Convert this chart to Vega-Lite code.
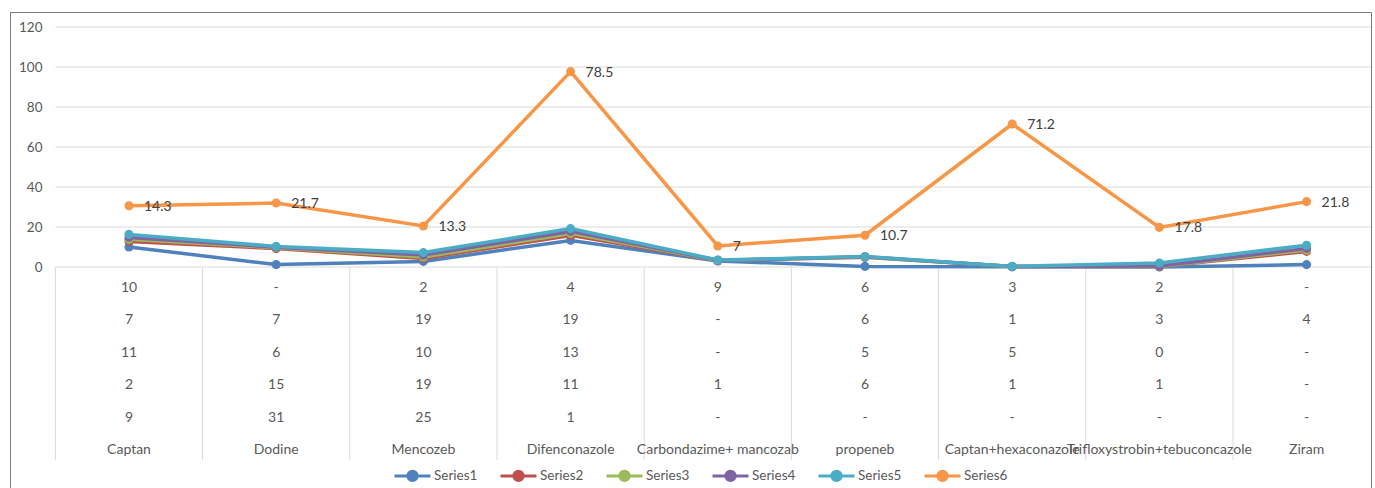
{
  "$schema": "https://vega.github.io/schema/vega-lite/v6.json",
  "width": 1361,
  "height": 476,
  "autosize": {"type": "none"},
  "padding": {"left": 10, "top": 12, "right": 4, "bottom": 0},
  "background": "white",
  "config": {
    "view": {"stroke": "#7a7a7a", "strokeWidth": 1},
    "font": "Lato",
    "scale": {"bandPaddingInner": 0, "bandPaddingOuter": 0}
  },
  "datasets": {
    "grid": [{"g": 0}, {"g": 20}, {"g": 40}, {"g": 60}, {"g": 80}, {"g": 100}, {"g": 120}],
    "lines": [
      {"cat": "Captan", "series": "Series1", "v": 10},
      {"cat": "Dodine", "series": "Series1", "v": 1.2},
      {"cat": "Mencozeb", "series": "Series1", "v": 2.8},
      {"cat": "Difenconazole", "series": "Series1", "v": 13.3},
      {"cat": "Carbondazime+ mancozab", "series": "Series1", "v": 3.0},
      {"cat": "propeneb", "series": "Series1", "v": 0.3},
      {"cat": "Captan+hexaconazole", "series": "Series1", "v": 0.1},
      {"cat": "Trifloxystrobin+tebuconcazole", "series": "Series1", "v": 0},
      {"cat": "Ziram", "series": "Series1", "v": 1.2},
      {"cat": "Captan", "series": "Series2", "v": 2.8},
      {"cat": "Dodine", "series": "Series2", "v": 8.0},
      {"cat": "Mencozeb", "series": "Series2", "v": 1.5},
      {"cat": "Difenconazole", "series": "Series2", "v": 2.5},
      {"cat": "Carbondazime+ mancozab", "series": "Series2", "v": 0.2},
      {"cat": "propeneb", "series": "Series2", "v": 4.6},
      {"cat": "Captan+hexaconazole", "series": "Series2", "v": 0.1},
      {"cat": "Trifloxystrobin+tebuconcazole", "series": "Series2", "v": 0.2},
      {"cat": "Ziram", "series": "Series2", "v": 6.6},
      {"cat": "Captan", "series": "Series3", "v": 1.1},
      {"cat": "Dodine", "series": "Series3", "v": 0.4},
      {"cat": "Mencozeb", "series": "Series3", "v": 0.7},
      {"cat": "Difenconazole", "series": "Series3", "v": 1.0},
      {"cat": "Carbondazime+ mancozab", "series": "Series3", "v": 0.1},
      {"cat": "propeneb", "series": "Series3", "v": 0.1},
      {"cat": "Captan+hexaconazole", "series": "Series3", "v": 0},
      {"cat": "Trifloxystrobin+tebuconcazole", "series": "Series3", "v": 0.1},
      {"cat": "Ziram", "series": "Series3", "v": 0.7},
      {"cat": "Captan", "series": "Series4", "v": 0.9},
      {"cat": "Dodine", "series": "Series4", "v": 0.3},
      {"cat": "Mencozeb", "series": "Series4", "v": 1.0},
      {"cat": "Difenconazole", "series": "Series4", "v": 1.0},
      {"cat": "Carbondazime+ mancozab", "series": "Series4", "v": 0.1},
      {"cat": "propeneb", "series": "Series4", "v": 0.1},
      {"cat": "Captan+hexaconazole", "series": "Series4", "v": 0},
      {"cat": "Trifloxystrobin+tebuconcazole", "series": "Series4", "v": 0.2},
      {"cat": "Ziram", "series": "Series4", "v": 0.8},
      {"cat": "Captan", "series": "Series5", "v": 1.5},
      {"cat": "Dodine", "series": "Series5", "v": 0.4},
      {"cat": "Mencozeb", "series": "Series5", "v": 1.2},
      {"cat": "Difenconazole", "series": "Series5", "v": 1.4},
      {"cat": "Carbondazime+ mancozab", "series": "Series5", "v": 0.1},
      {"cat": "propeneb", "series": "Series5", "v": 0.1},
      {"cat": "Captan+hexaconazole", "series": "Series5", "v": 0.1},
      {"cat": "Trifloxystrobin+tebuconcazole", "series": "Series5", "v": 1.5},
      {"cat": "Ziram", "series": "Series5", "v": 1.6},
      {"cat": "Captan", "series": "Series6", "v": 14.3},
      {"cat": "Dodine", "series": "Series6", "v": 21.7},
      {"cat": "Mencozeb", "series": "Series6", "v": 13.3},
      {"cat": "Difenconazole", "series": "Series6", "v": 78.5},
      {"cat": "Carbondazime+ mancozab", "series": "Series6", "v": 7},
      {"cat": "propeneb", "series": "Series6", "v": 10.7},
      {"cat": "Captan+hexaconazole", "series": "Series6", "v": 71.2},
      {"cat": "Trifloxystrobin+tebuconcazole", "series": "Series6", "v": 17.8},
      {"cat": "Ziram", "series": "Series6", "v": 21.8}
    ],
    "table": [
      {"cat": "Captan", "row": 1, "text": "10"},
      {"cat": "Captan", "row": 2, "text": "7"},
      {"cat": "Captan", "row": 3, "text": "11"},
      {"cat": "Captan", "row": 4, "text": "2"},
      {"cat": "Captan", "row": 5, "text": "9"},
      {"cat": "Captan", "row": 6, "text": "Captan"},
      {"cat": "Dodine", "row": 1, "text": "-"},
      {"cat": "Dodine", "row": 2, "text": "7"},
      {"cat": "Dodine", "row": 3, "text": "6"},
      {"cat": "Dodine", "row": 4, "text": "15"},
      {"cat": "Dodine", "row": 5, "text": "31"},
      {"cat": "Dodine", "row": 6, "text": "Dodine"},
      {"cat": "Mencozeb", "row": 1, "text": "2"},
      {"cat": "Mencozeb", "row": 2, "text": "19"},
      {"cat": "Mencozeb", "row": 3, "text": "10"},
      {"cat": "Mencozeb", "row": 4, "text": "19"},
      {"cat": "Mencozeb", "row": 5, "text": "25"},
      {"cat": "Mencozeb", "row": 6, "text": "Mencozeb"},
      {"cat": "Difenconazole", "row": 1, "text": "4"},
      {"cat": "Difenconazole", "row": 2, "text": "19"},
      {"cat": "Difenconazole", "row": 3, "text": "13"},
      {"cat": "Difenconazole", "row": 4, "text": "11"},
      {"cat": "Difenconazole", "row": 5, "text": "1"},
      {"cat": "Difenconazole", "row": 6, "text": "Difenconazole"},
      {"cat": "Carbondazime+ mancozab", "row": 1, "text": "9"},
      {"cat": "Carbondazime+ mancozab", "row": 2, "text": "-"},
      {"cat": "Carbondazime+ mancozab", "row": 3, "text": "-"},
      {"cat": "Carbondazime+ mancozab", "row": 4, "text": "1"},
      {"cat": "Carbondazime+ mancozab", "row": 5, "text": "-"},
      {"cat": "Carbondazime+ mancozab", "row": 6, "text": "Carbondazime+ mancozab"},
      {"cat": "propeneb", "row": 1, "text": "6"},
      {"cat": "propeneb", "row": 2, "text": "6"},
      {"cat": "propeneb", "row": 3, "text": "5"},
      {"cat": "propeneb", "row": 4, "text": "6"},
      {"cat": "propeneb", "row": 5, "text": "-"},
      {"cat": "propeneb", "row": 6, "text": "propeneb"},
      {"cat": "Captan+hexaconazole", "row": 1, "text": "3"},
      {"cat": "Captan+hexaconazole", "row": 2, "text": "1"},
      {"cat": "Captan+hexaconazole", "row": 3, "text": "5"},
      {"cat": "Captan+hexaconazole", "row": 4, "text": "1"},
      {"cat": "Captan+hexaconazole", "row": 5, "text": "-"},
      {"cat": "Captan+hexaconazole", "row": 6, "text": "Captan+hexaconazole"},
      {"cat": "Trifloxystrobin+tebuconcazole", "row": 1, "text": "2"},
      {"cat": "Trifloxystrobin+tebuconcazole", "row": 2, "text": "3"},
      {"cat": "Trifloxystrobin+tebuconcazole", "row": 3, "text": "0"},
      {"cat": "Trifloxystrobin+tebuconcazole", "row": 4, "text": "1"},
      {"cat": "Trifloxystrobin+tebuconcazole", "row": 5, "text": "-"},
      {"cat": "Trifloxystrobin+tebuconcazole", "row": 6, "text": "Trifloxystrobin+tebuconcazole"},
      {"cat": "Ziram", "row": 1, "text": "-"},
      {"cat": "Ziram", "row": 2, "text": "4"},
      {"cat": "Ziram", "row": 3, "text": "-"},
      {"cat": "Ziram", "row": 4, "text": "-"},
      {"cat": "Ziram", "row": 5, "text": "-"},
      {"cat": "Ziram", "row": 6, "text": "Ziram"}
    ]
  },
  "resolve": {"scale": {"y": "independent"}},
  "layer": [
    {
      "layer": [
        {
          "data": {"name": "grid"},
          "mark": {"type": "rule", "color": "#d9d9d9", "strokeWidth": 1},
          "encoding": {
            "x": {"datum": "Captan", "type": "nominal", "bandPosition": 0,
                  "scale": {"type": "band", "domain": ["Captan", "Dodine", "Mencozeb", "Difenconazole", "Carbondazime+ mancozab", "propeneb", "Captan+hexaconazole", "Trifloxystrobin+tebuconcazole", "Ziram"], "range": [45.4, 1370.2]},
                  "axis": null},
            "x2": {"value": "width"},
            "y": {"field": "g", "type": "quantitative",
                  "scale": {"domain": [-110.5, 127.5], "nice": false, "zero": false},
                  "axis": {"title": null, "values": [0, 20, 40, 60, 80, 100, 120], "grid": false, "domain": false, "ticks": false, "tickSize": 0, "offset": -46, "labelPadding": 14, "labelFontSize": 13.5, "labelColor": "#595959", "labelFont": "Lato"}}
          }
        },
        {
          "data": {"name": "table"},
          "transform": [{"filter": "datum.row === 6"}],
          "mark": {"type": "rule", "color": "#d9d9d9", "strokeWidth": 1},
          "encoding": {
            "x": {"field": "cat", "type": "nominal", "bandPosition": 0,
                  "scale": {"type": "band", "domain": ["Captan", "Dodine", "Mencozeb", "Difenconazole", "Carbondazime+ mancozab", "propeneb", "Captan+hexaconazole", "Trifloxystrobin+tebuconcazole", "Ziram"], "range": [45.4, 1370.2]},
                  "axis": null},
            "y": {"datum": 0, "type": "quantitative"},
            "y2": {"datum": -96.5}
          }
        },
        {
          "data": {"name": "lines"},
          "transform": [
            {"stack": "v", "groupby": ["cat"], "sort": [{"field": "series", "order": "ascending"}], "as": ["v0", "v1"]}
          ],
          "mark": {"type": "line", "strokeWidth": 3.5, "point": {"filled": true, "size": 82}},
          "encoding": {
            "x": {"field": "cat", "type": "nominal",
                  "scale": {"type": "band", "domain": ["Captan", "Dodine", "Mencozeb", "Difenconazole", "Carbondazime+ mancozab", "propeneb", "Captan+hexaconazole", "Trifloxystrobin+tebuconcazole", "Ziram"], "range": [45.4, 1370.2]},
                  "axis": null},
            "y": {"field": "v1", "type": "quantitative", "title": null},
            "order": {"value": null},
            "color": {
              "field": "series", "type": "nominal",
              "scale": {"domain": ["Series1", "Series2", "Series3", "Series4", "Series5", "Series6"],
                        "range": ["#4f81bd", "#c0504d", "#9bbb59", "#8064a2", "#4bacc6", "#f79646"]},
              "legend": {
                "title": null, "orient": "none", "direction": "horizontal",
                "legendX": 383, "legendY": 444, "padding": 0,
                "symbolType": "M-1,0L1,0M0.26,0A0.26,0.26 0 1,1 -0.26,0A0.26,0.26 0 1,1 0.26,0",
                "symbolSize": 1296, "symbolStrokeWidth": 3,
                "labelFont": "Lato", "labelFontSize": 13.5, "labelColor": "#595959",
                "labelOffset": 2, "columnPadding": 16,
                "encode": {"symbols": {"update": {"fill": {"scale": "color", "field": "value"}, "fillOpacity": {"value": 1}}}}
              }
            }
          }
        },
        {
          "data": {"name": "lines"},
          "transform": [
            {"stack": "v", "groupby": ["cat"], "sort": [{"field": "series", "order": "ascending"}], "as": ["v0", "v1"]},
            {"filter": "datum.series === 'Series6'"}
          ],
          "mark": {"type": "text", "align": "left", "baseline": "middle", "dx": 15, "dy": 1, "fontSize": 14, "font": "Lato", "color": "#404040"},
          "encoding": {
            "x": {"field": "cat", "type": "nominal",
                  "scale": {"type": "band", "domain": ["Captan", "Dodine", "Mencozeb", "Difenconazole", "Carbondazime+ mancozab", "propeneb", "Captan+hexaconazole", "Trifloxystrobin+tebuconcazole", "Ziram"], "range": [45.4, 1370.2]},
                  "axis": null},
            "y": {"field": "v1", "type": "quantitative", "title": null},
            "text": {"field": "v", "type": "quantitative"}
          }
        }
      ]
    },
    {
      "data": {"name": "table"},
      "mark": {"type": "text", "align": "center", "baseline": "middle", "fontSize": 14, "font": "Lato", "color": "#595959"},
      "encoding": {
        "x": {"field": "cat", "type": "nominal",
              "scale": {"type": "band", "domain": ["Captan", "Dodine", "Mencozeb", "Difenconazole", "Carbondazime+ mancozab", "propeneb", "Captan+hexaconazole", "Trifloxystrobin+tebuconcazole", "Ziram"], "range": [45.4, 1370.2]},
              "axis": null},
        "y": {"field": "row", "type": "quantitative",
              "scale": {"domain": [-7.5185, 7.173], "reverse": true, "nice": false, "zero": false},
              "axis": null},
        "text": {"field": "text"}
      }
    }
  ]
}
